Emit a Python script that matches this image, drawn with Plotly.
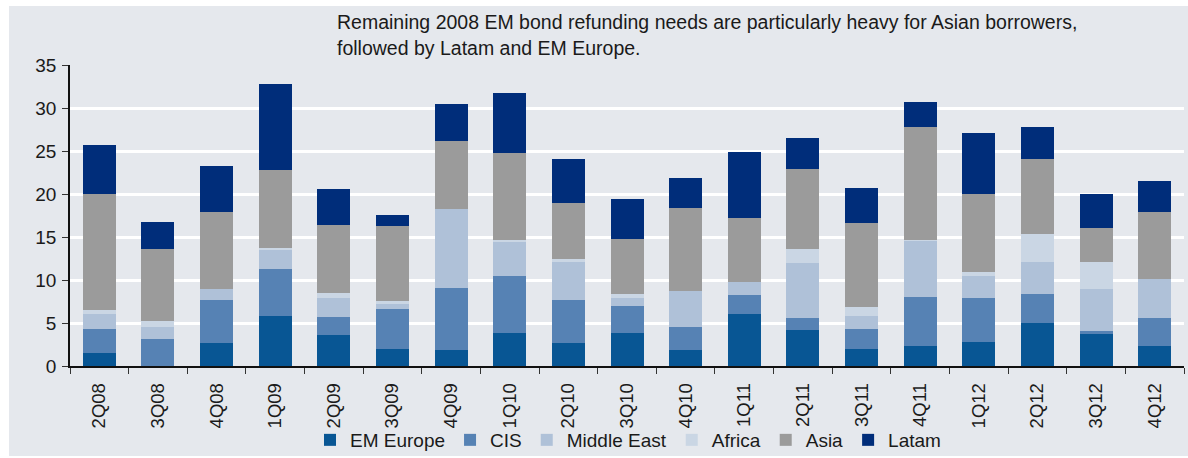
import plotly.graph_objects as go

# Quarterly EM bond refunding needs by region, US$ bn
quarters = ["2Q08", "3Q08", "4Q08", "1Q09", "2Q09", "3Q09", "4Q09", "1Q10", "2Q10", "3Q10",
            "4Q10", "1Q11", "2Q11", "3Q11", "4Q11", "1Q12", "2Q12", "3Q12", "4Q12"]

em_europe = [1.55, 0.0, 2.7, 5.85, 3.6, 2.0, 1.85, 3.85, 2.65, 3.85, 1.85, 6.05, 4.2, 2.0, 2.3, 2.8, 5.0, 3.7, 2.3]
cis = [2.75, 3.15, 4.95, 5.4, 2.1, 4.6, 7.2, 6.6, 5.0, 3.1, 2.7, 2.2, 1.4, 2.3, 5.7, 5.1, 3.35, 0.35, 3.25]
middle_east = [1.75, 1.35, 1.3, 2.3, 2.2, 0.6, 9.15, 4.05, 4.4, 0.95, 4.15, 1.5, 6.4, 1.5, 6.6, 2.55, 3.7, 4.9, 4.55]
africa = [0.45, 0.7, 0.0, 0.15, 0.55, 0.35, 0.0, 0.1, 0.45, 0.45, 0.0, 0.0, 1.6, 1.05, 0.1, 0.45, 3.35, 3.1, 0.0]
asia = [13.5, 8.35, 8.9, 9.05, 7.9, 8.7, 8.0, 10.2, 6.4, 6.4, 9.65, 7.45, 9.3, 9.75, 13.1, 9.05, 8.7, 3.95, 7.75]
latam = [5.7, 3.25, 5.45, 10.0, 4.2, 1.3, 4.3, 7.0, 5.2, 4.65, 3.5, 7.65, 3.6, 4.05, 2.9, 7.1, 3.7, 3.95, 3.7]

series = [
    ("EM Europe", em_europe, "#085694"),
    ("CIS", cis, "#5682B4"),
    ("Middle East", middle_east, "#AFC1D8"),
    ("Africa", africa, "#CAD6E4"),
    ("Asia", asia, "#9B9B9B"),
    ("Latam", latam, "#002D7A"),
]

y_ticks = [0, 5, 10, 15, 20, 25, 30, 35]

note_lines = [
    "Remaining 2008 EM bond refunding needs are particularly heavy for Asian borrowers,",
    "followed by Latam and EM Europe.",
]

W, H = 1188, 458
L, R, T, B = 70, 4, 65, 92
pw, ph = W - L - R, H - T - B


def px_x(x):
    return (x - L) / pw


def px_y(y):
    return (H - B - y) / ph


FONT = "Liberation Sans, Arial, sans-serif"
TXT = "#1a1a1a"
PANEL = "#E5E8ED"

fig = go.Figure()
for name, vals, color in series:
    fig.add_trace(go.Bar(x=quarters, y=vals, name=name, marker=dict(color=color, line=dict(width=0))))

fig.update_layout(
    width=W, height=H,
    margin=dict(l=L, r=R, t=T, b=B, pad=0, autoexpand=False),
    barmode="stack", bargap=0.437,
    paper_bgcolor="white", plot_bgcolor=PANEL,
    font=dict(family=FONT, size=19, color=TXT),
    showlegend=True,
    legend=dict(orientation="h", x=px_x(310), xanchor="left", y=px_y(440), yanchor="middle",
                bgcolor="rgba(0,0,0,0)", font=dict(size=19, color=TXT), traceorder="normal",
                itemclick=False),
    xaxis=dict(type="category", showline=True, linecolor="#111", linewidth=1.5,
               ticks="outside", ticklen=6, tickcolor="#333", tickson="boundaries",
               tickangle=-90, tickfont=dict(size=18.5, color=TXT), ticklabelstandoff=8,
               showgrid=False, automargin=False),
    yaxis=dict(range=[0, 35], tickvals=y_ticks, showline=True, linecolor="#111", linewidth=1.5,
               ticks="outside", ticklen=6, tickcolor="#333", tickfont=dict(size=19, color=TXT),
               ticklabelstandoff=2, automargin=False,
               showgrid=True, gridcolor="white", gridwidth=2.5, zeroline=False),
    shapes=[dict(type="rect", xref="paper", yref="paper", layer="below",
                 x0=px_x(9), x1=px_x(W), y0=px_y(456), y1=px_y(6),
                 fillcolor=PANEL, line=dict(width=0))],
)

# explanatory note, one annotation per line
for i, line in enumerate(note_lines):
    fig.add_annotation(xref="paper", yref="paper", x=px_x(335), y=px_y(9 + 26 * i),
                       xanchor="left", yanchor="top", text=line, showarrow=False,
                       font=dict(size=19.5, color=TXT, family=FONT))

fig.write_html("out.html")
